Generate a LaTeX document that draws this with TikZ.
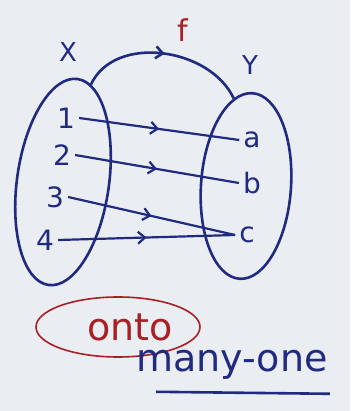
\documentclass[tikz,border=0pt]{standalone}
\usepackage{fontspec}
\setmainfont{DejaVu Sans}
\usepackage{tikz}
\usetikzlibrary{shapes.geometric,arrows.meta,decorations.markings}

\definecolor{inkblue}{RGB}{32,42,128}
\definecolor{inkred}{RGB}{168,32,36}
\definecolor{paper}{RGB}{234,237,242}

\begin{document}
\begin{tikzpicture}[
  x=1pt, y=1pt,
  ink/.style={draw=inkblue, line width=2.6pt},
  setring/.style={ellipse, ink, inner sep=0pt},
  lbl/.style={font=\fontsize{26}{28}\selectfont, text=inkblue, inner sep=3pt},
  elt/.style={font=\fontsize{28}{30}\selectfont, text=inkblue, inner sep=4pt},
  word/.style={font=\fontsize{38}{40}\selectfont, inner sep=2pt},
  maparr/.style={inkblue, line width=2.2pt, postaction={decorate},
                 decoration={markings, mark=at position 0.5 with
                   {\arrow{Straight Barb[length=7pt, width=12pt]}}}}
]

%% Paper
\fill[paper] (0,0) rectangle (350,411);

%% The two sets
\node[setring, minimum width=92, minimum height=208, rotate=-8] (setX) at (63,229) {};
\node[setring, minimum width=90, minimum height=186, rotate=-4] (setY) at (246,225) {};

%% Set names and map name
\node[lbl] (lblX) at (68,359) {X};
\node[lbl, text=inkred, font=\fontsize{30}{32}\selectfont] (lblf) at (183,381) {f};
\node[lbl] (lblY) at (250,346) {Y};

%% Elements of X
\node[elt] (n1) at (66,293) {1};
\node[elt] (n2) at (62,256) {2};
\node[elt] (n3) at (55,214) {3};
\node[elt] (n4) at (45,171) {4};

%% Elements of Y
\node[elt] (na) at (252,271) {a};
\node[elt] (nb) at (252,228) {b};
\node[elt] (nc) at (247,176) {c};

%% The map f
\draw[maparr, line width=2.6pt] (setX.82) to[out=65, in=115] (setY.102);

%% Element arrows
\draw[maparr] (n1.east) -- (na.west);
\draw[maparr] (n2.east) -- (nb.west);
\draw[maparr] (n3.east) -- (nc.west);
\draw[maparr] (n4.east) -- (nc.west);

%% Onto, circled
\node[ellipse, draw=inkred, line width=1.6pt, minimum width=164, minimum height=60] (ontoRing) at (118,84) {};
\node[word, text=inkred] (onto) at (130,84) {onto};

%% Many-one, underlined
\node[word, text=inkblue] (manyone) at (232,46) {many-one};
\draw[ink] ([shift={(22pt,-10pt)}]manyone.south west) -- ([yshift=-12pt]manyone.south east);

\end{tikzpicture}
\end{document}
